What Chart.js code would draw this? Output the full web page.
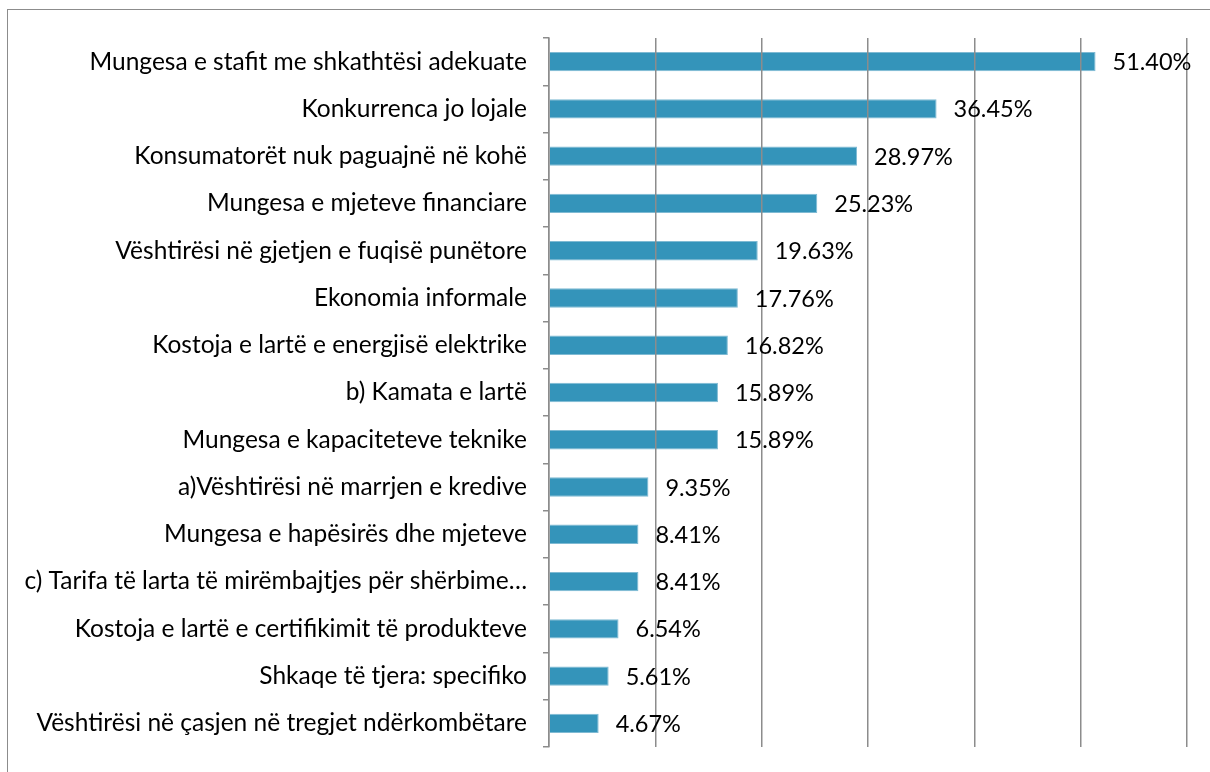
<!DOCTYPE html>
<html>
<head>
<meta charset="utf-8">
<script src="https://cdn.jsdelivr.net/npm/chart.js@4"></script>
<style>
  html, body { margin: 0; padding: 0; background: #fff; overflow: hidden; }
  #wrap { position: relative; width: 1210px; height: 772px; }
  #frame { position: absolute; left: 7px; top: 9px; width: 1210px; height: 800px; border: 1px solid #8c8c8c; box-sizing: border-box; pointer-events: none; }
</style>
</head>
<body>
<div id="wrap">
  <canvas id="barChart" width="1210" height="772"></canvas>
  <div id="frame"></div>
</div>
<script>
const categories = [
    'Mungesa e stafit me shkathtësi adekuate',
    'Konkurrenca jo lojale',
    'Konsumatorët nuk paguajnë në kohë',
    'Mungesa e mjeteve financiare',
    'Vështirësi në gjetjen e fuqisë punëtore',
    'Ekonomia informale',
    'Kostoja e lartë e energjisë elektrike',
    'b) Kamata e lartë',
    'Mungesa e kapaciteteve teknike',
    'a)Vështirësi në marrjen e kredive',
    'Mungesa e hapësirës dhe mjeteve',
    'c) Tarifa të larta të mirëmbajtjes për shërbime…',
    'Kostoja e lartë e certifikimit të produkteve',
    'Shkaqe të tjera: specifiko',
    'Vështirësi në çasjen në tregjet ndërkombëtare'
];
const percentages = [51.40, 36.45, 28.97, 25.23, 19.63, 17.76, 16.82, 15.89, 15.89, 9.35, 8.41, 8.41, 6.54, 5.61, 4.67];
const xTicks = [0, 10, 20, 30, 40, 50, 60];

const fontFamily = 'Lato, "Open Sans", sans-serif';

// etiketat e vlerave pas çdo shtylle
const valueLabels = {
    id: 'valueLabels',
    afterDraw(chart) {
        const ctx = chart.ctx;
        const meta = chart.getDatasetMeta(0);
        ctx.save();
        ctx.font = '23.5px ' + fontFamily;
        ctx.fillStyle = '#000';
        ctx.textAlign = 'left';
        ctx.textBaseline = 'middle';
        meta.data.forEach((bar, i) => {
            ctx.fillText(percentages[i].toFixed(2) + '%', bar.x + 17, bar.y + 1);
        });
        ctx.restore();
    }
};

const ctx = document.getElementById('barChart');
new Chart(ctx, {
    type: 'bar',
    data: {
        labels: categories,
        datasets: [{
            data: percentages,
            backgroundColor: '#3494ba',
            borderColor: '#7fbad3',
            borderWidth: 1,
            categoryPercentage: 1,
            barPercentage: 0.41
        }]
    },
    options: {
        indexAxis: 'y',
        responsive: false,
        animation: false,
        layout: {
            padding: { top: 38, right: 23, bottom: 25, left: 0 }
        },
        plugins: {
            legend: { display: false },
            tooltip: { enabled: false }
        },
        scales: {
            x: {
                min: 0,
                max: 60,
                afterBuildTicks: (axis) => { axis.ticks = xTicks.map(v => ({ value: v })); },
                afterFit: (axis) => { axis.height = 0; },
                ticks: { display: false },
                grid: { color: '#8c8c8c', lineWidth: 1.5, drawTicks: false, z: 1 },
                border: { display: false }
            },
            y: {
                afterFit: (axis) => {
                    axis.width = 549;
                    axis.paddingTop = 0;
                    axis.paddingBottom = 0;
                },
                grid: {
                    drawOnChartArea: false,
                    drawTicks: true,
                    tickLength: 6,
                    color: '#8c8c8c',
                    lineWidth: 1.5
                },
                border: { display: true, color: '#8c8c8c', width: 1.5, z: 1 },
                ticks: {
                    color: '#000',
                    padding: 16,
                    font: { family: fontFamily, size: 24.5 }
                }
            }
        }
    },
    plugins: [valueLabels]
});
</script>
</body>
</html>
